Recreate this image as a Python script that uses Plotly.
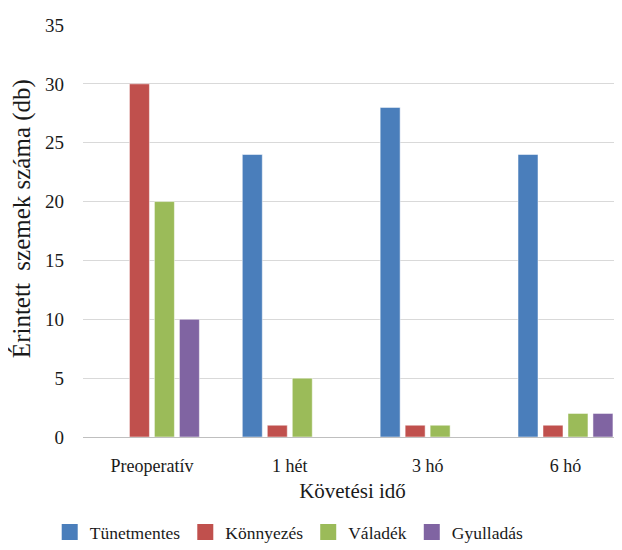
import plotly.graph_objects as go

categories = ["Preoperatív", "1 hét", "3 hó", "6 hó"]
series_names = ["Tünetmentes", "Könnyezés", "Váladék", "Gyulladás"]
tunetmentes = [0, 24, 28, 24]
konnyezes = [30, 1, 1, 1]
valadek = [20, 5, 1, 2]
gyulladas = [10, 0, 0, 2]
values = [tunetmentes, konnyezes, valadek, gyulladas]
colors = ["#4A7EBB", "#C0504D", "#9BBB59", "#8064A2"]
y_ticks = [0, 5, 10, 15, 20, 25, 30, 35]
x_title = "Követési idő"
y_title = "Érintett  szemek száma (db)"

FONT = "Liberation Serif"

fig = go.Figure()
for name, vals, col in zip(series_names, values, colors):
    fig.add_trace(go.Bar(x=categories, y=vals, name=name,
                         marker=dict(color=col, line=dict(color="rgba(255,255,255,0.5)", width=1)),
                         showlegend=False))
for name, col in zip(series_names, colors):
    fig.add_trace(go.Scatter(x=[None], y=[None], mode="markers", name=name,
                             marker=dict(symbol="square", size=17, color=col)))

fig.update_layout(
    width=614, height=542,
    paper_bgcolor="white", plot_bgcolor="white",
    margin=dict(l=75, r=0, t=17, b=113),
    barmode="group", bargap=0.275, bargroupgap=0.2,
    font=dict(family=FONT, size=18, color="#1a1a1a"),
    xaxis=dict(range=[-0.5, 3.41], showgrid=False, showline=False, zeroline=False,
               tickfont=dict(family=FONT, size=18), ticks="", ticklabelstandoff=16,
               title=dict(text=x_title, font=dict(family=FONT, size=21), standoff=8)),
    yaxis=dict(range=[0, 35], tickvals=y_ticks, showgrid=True, gridcolor="#d9d9d9",
               gridwidth=1, zeroline=True, zerolinecolor="#bfbfbf", zerolinewidth=1,
               showline=False, ticks="", ticklabelstandoff=18,
               tickfont=dict(family=FONT, size=19)),
    annotations=[dict(text=y_title, textangle=-90, xref="paper", yref="paper",
                      x=-0.113, y=0.529, xanchor="center", yanchor="middle",
                      showarrow=False, font=dict(family=FONT, size=25, color="#1a1a1a"))],
    legend=dict(orientation="h", xref="container", yref="container",
                x=0.458, xanchor="center", y=-0.025, yanchor="bottom",
                font=dict(family=FONT, size=17.5), itemwidth=30, tracegroupgap=0),
)
fig.write_html("out.html")
